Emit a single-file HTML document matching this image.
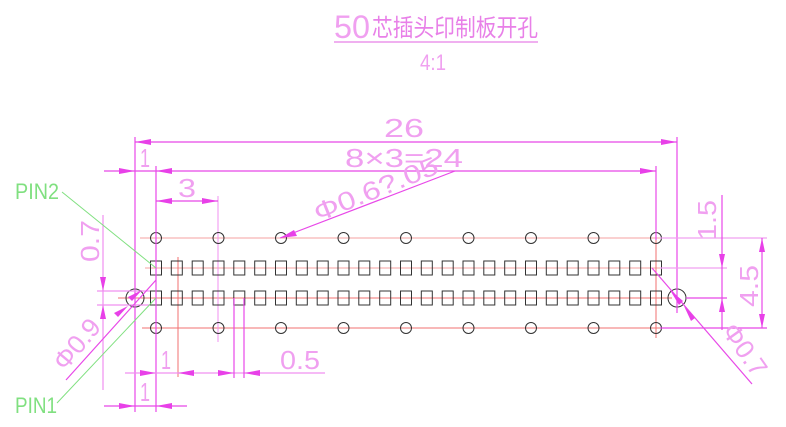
<!DOCTYPE html>
<html><head><meta charset="utf-8"><style>
html,body{margin:0;padding:0;background:#fff;}
svg{display:block}
text{font-family:"Liberation Sans","Noto Sans CJK SC",sans-serif;}
</style></head><body>
<svg width="786" height="427" viewBox="0 0 786 427" xmlns="http://www.w3.org/2000/svg">
<defs>
<rect id="sq" x="-5.5" y="-7" width="11" height="14" fill="none" stroke="#333" stroke-width="1"/>
<circle id="ci" r="5.5" fill="none" stroke="#333" stroke-width="1"/>
</defs>
<!-- title -->
<text x="334" y="38" font-size="32" fill="#f0a0f0" textLength="36" lengthAdjust="spacingAndGlyphs">50</text>
<text x="372" y="36" font-size="24" fill="#e880e8" textLength="166" lengthAdjust="spacingAndGlyphs">芯插头印制板开孔</text>
<line x1="334" y1="42" x2="538" y2="42" stroke="#e880e8" stroke-width="1.2"/>
<text x="420" y="70" font-size="22" fill="#f0a0f0" textLength="26" lengthAdjust="spacingAndGlyphs">4:1</text>

<!-- red centre lines -->
<g stroke="#f07070" stroke-width="1">
<line x1="140" y1="238" x2="670" y2="238" stroke="#f4a0a0"/>
<line x1="145" y1="268" x2="660" y2="268" stroke="#f4a0a0"/>
<line x1="118" y1="298" x2="672" y2="298"/>
<line x1="142" y1="328" x2="665" y2="328"/>
<line x1="156" y1="250" x2="156" y2="340"/>
<line x1="178" y1="257" x2="178" y2="377"/>
<line x1="218" y1="196" x2="218" y2="342" stroke="#f090f0"/>
<line x1="656" y1="232" x2="656" y2="338"/>
</g>

<!-- pads -->
<g>
<use href="#ci" x="156" y="238"/><use href="#ci" x="218.5" y="238"/><use href="#ci" x="281" y="238"/><use href="#ci" x="343.5" y="238"/><use href="#ci" x="406" y="238"/><use href="#ci" x="468.5" y="238"/><use href="#ci" x="531" y="238"/><use href="#ci" x="593.5" y="238"/><use href="#ci" x="656" y="238"/>
<use href="#ci" x="156" y="328"/><use href="#ci" x="218.5" y="328"/><use href="#ci" x="281" y="328"/><use href="#ci" x="343.5" y="328"/><use href="#ci" x="406" y="328"/><use href="#ci" x="468.5" y="328"/><use href="#ci" x="531" y="328"/><use href="#ci" x="593.5" y="328"/><use href="#ci" x="656" y="328"/>
<g transform="translate(0,268)">
<use href="#sq" x="156"/><use href="#sq" x="176.8"/><use href="#sq" x="197.7"/><use href="#sq" x="218.5"/><use href="#sq" x="239.3"/><use href="#sq" x="260.2"/><use href="#sq" x="281"/><use href="#sq" x="301.8"/><use href="#sq" x="322.7"/><use href="#sq" x="343.5"/><use href="#sq" x="364.3"/><use href="#sq" x="385.2"/><use href="#sq" x="406"/><use href="#sq" x="426.8"/><use href="#sq" x="447.7"/><use href="#sq" x="468.5"/><use href="#sq" x="489.3"/><use href="#sq" x="510.2"/><use href="#sq" x="531"/><use href="#sq" x="551.8"/><use href="#sq" x="572.7"/><use href="#sq" x="593.5"/><use href="#sq" x="614.3"/><use href="#sq" x="635.2"/><use href="#sq" x="656"/>
</g>
<g transform="translate(0,298)">
<use href="#sq" x="156"/><use href="#sq" x="176.8"/><use href="#sq" x="197.7"/><use href="#sq" x="218.5"/><use href="#sq" x="239.3"/><use href="#sq" x="260.2"/><use href="#sq" x="281"/><use href="#sq" x="301.8"/><use href="#sq" x="322.7"/><use href="#sq" x="343.5"/><use href="#sq" x="364.3"/><use href="#sq" x="385.2"/><use href="#sq" x="406"/><use href="#sq" x="426.8"/><use href="#sq" x="447.7"/><use href="#sq" x="468.5"/><use href="#sq" x="489.3"/><use href="#sq" x="510.2"/><use href="#sq" x="531"/><use href="#sq" x="551.8"/><use href="#sq" x="572.7"/><use href="#sq" x="593.5"/><use href="#sq" x="614.3"/><use href="#sq" x="635.2"/><use href="#sq" x="656"/>
</g>
<circle cx="135" cy="298" r="9" fill="none" stroke="#333"/>
<circle cx="677" cy="298" r="9" fill="none" stroke="#333"/>
</g>

<!-- magenta dimension lines -->
<g stroke="#e848e8" stroke-width="1.2" fill="none">
<line x1="135" y1="137" x2="135" y2="412"/>
<line x1="156" y1="166" x2="156" y2="412"/>
<line x1="677" y1="137" x2="677" y2="313"/>
<line x1="656" y1="166" x2="656" y2="240"/>
<line x1="135" y1="142" x2="677" y2="142"/>
<line x1="104" y1="171" x2="656" y2="171"/>
<line x1="156" y1="201" x2="218" y2="201"/>
<line x1="125" y1="373" x2="325" y2="373" stroke="#f090f0"/>
<line x1="234" y1="298" x2="234" y2="378"/>
<line x1="244" y1="298" x2="244" y2="378"/>
<line x1="104" y1="406" x2="187" y2="406"/>
<line x1="455" y1="171" x2="280" y2="238"/>
<line x1="103" y1="215" x2="103" y2="390" stroke="#f090f0"/>
<line x1="97" y1="291" x2="150" y2="291" stroke="#f090f0"/>
<line x1="97" y1="305" x2="150" y2="305" stroke="#f090f0"/>
<line x1="66" y1="380" x2="156" y2="280"/>
<line x1="660" y1="238" x2="767" y2="238" stroke="#f0a0f0"/>
<line x1="660" y1="268" x2="727" y2="268" stroke="#f0a0f0"/>
<line x1="686" y1="298" x2="727" y2="298"/>
<line x1="660" y1="328" x2="767" y2="328"/>
<line x1="722" y1="195" x2="722" y2="330"/>
<line x1="762" y1="238" x2="762" y2="328"/>
<line x1="652" y1="268" x2="752" y2="384"/>
</g>

<!-- arrows -->
<g fill="#e840e8">
<polygon points="135,142 151,139 151,145"/>
<polygon points="677,142 661,139 661,145"/>
<polygon points="135,171 119,168 119,174"/>
<polygon points="156,171 172,168 172,174"/>
<polygon points="656,171 640,168 640,174"/>
<polygon points="156,201 172,198 172,204"/>
<polygon points="218,201 202,198 202,204"/>
<polygon points="156,373 140,370 140,376"/>
<polygon points="178,373 194,370 194,376"/>
<polygon points="234,373 218,370 218,376"/>
<polygon points="244,373 260,370 260,376"/>
<polygon points="135,406 119,403 119,409"/>
<polygon points="156,406 172,403 172,409"/>
<polygon points="280,238 294,230 297,236"/>
<polygon points="103,291 100,277 106,277"/>
<polygon points="103,305 100,319 106,319"/>
<polygon points="142,290 132,301 128,297"/>
<polygon points="128,306 118,317 114,313"/>
<polygon points="722,268 719,254 725,254"/>
<polygon points="722,298 719,312 725,312"/>
<polygon points="762,238 759,252 765,252"/>
<polygon points="762,328 759,314 765,314"/>
<polygon points="670,290 683,301 679,305"/>
<polygon points="684,306 695,318 691,321"/>
</g>

<!-- dimension texts -->
<g fill="#f0a0f0" font-size="26">
<text x="384" y="137" textLength="40" lengthAdjust="spacingAndGlyphs">26</text>
<text x="345" y="167" textLength="118" lengthAdjust="spacingAndGlyphs">8×3=24</text>
<text x="140" y="167" textLength="10" lengthAdjust="spacingAndGlyphs">1</text>
<text x="178" y="197" textLength="18" lengthAdjust="spacingAndGlyphs">3</text>
<text x="161" y="369" textLength="10" lengthAdjust="spacingAndGlyphs">1</text>
<text x="280" y="369" textLength="40" lengthAdjust="spacingAndGlyphs">0.5</text>
<text x="140" y="401" textLength="10" lengthAdjust="spacingAndGlyphs">1</text>
<text transform="translate(318,222) rotate(-22)" textLength="132" lengthAdjust="spacingAndGlyphs">Φ0.6?.05</text>
<text transform="translate(99,262) rotate(-90)" textLength="42" lengthAdjust="spacingAndGlyphs">0.7</text>
<text transform="translate(65,372) rotate(-50)" textLength="58" lengthAdjust="spacingAndGlyphs">Φ0.9</text>
<text transform="translate(716,240) rotate(-90)" textLength="40" lengthAdjust="spacingAndGlyphs">1.5</text>
<text transform="translate(758,307) rotate(-90)" textLength="42" lengthAdjust="spacingAndGlyphs">4.5</text>
<text transform="translate(721,331) rotate(55)" textLength="58" lengthAdjust="spacingAndGlyphs">Φ0.7</text>
</g>

<!-- pin labels -->
<g stroke="#80e080" stroke-width="1">
<line x1="62" y1="192" x2="156" y2="268"/>
<line x1="57" y1="403" x2="156" y2="298"/>
</g>
<text x="15" y="199" font-size="22" fill="#80e080" textLength="44" lengthAdjust="spacingAndGlyphs">PIN2</text>
<text x="15" y="413" font-size="22" fill="#80e080" textLength="42" lengthAdjust="spacingAndGlyphs">PIN1</text>
</svg>
</body></html>
